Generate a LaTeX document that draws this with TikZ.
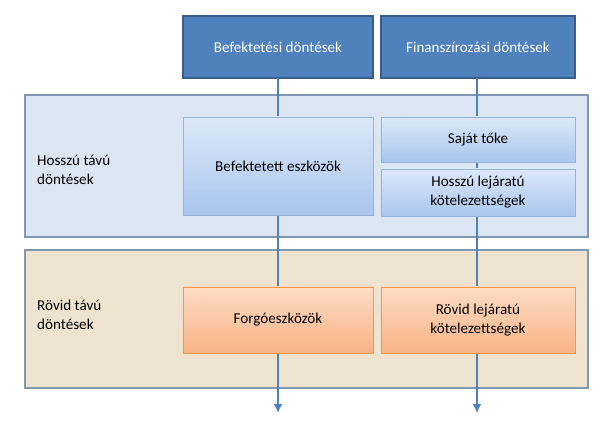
\documentclass[tikz,border=0pt]{standalone}
\usepackage{fontspec}
\setmainfont{Carlito}
\usetikzlibrary{arrows.meta}
\definecolor{headblue}{HTML}{4F81BD}
\definecolor{headedge}{HTML}{385D8A}
\definecolor{panelblue}{HTML}{DCE6F2}
\definecolor{paneltan}{HTML}{EEE3CE}
\definecolor{paneledge}{HTML}{8497B0}
\definecolor{boxblueA}{HTML}{DCE8F8}
\definecolor{boxblueB}{HTML}{A9C6EE}
\definecolor{boxblueedge}{HTML}{95B3D7}
\definecolor{boxorA}{HTML}{FCDCC4}
\definecolor{boxorB}{HTML}{F9B387}
\definecolor{boxoredge}{HTML}{F79646}
\begin{document}
\begin{tikzpicture}[
    x=0.02cm, y=-0.02cm,
    txt/.style={font=\fontsize{8.6}{10.5}\selectfont, align=center},
    head/.style={
        draw=headedge, fill=headblue, line width=0.8pt
    },
    panel/.style={
        draw=paneledge, line width=0.8pt
    },
    bluebox/.style={
        draw=boxblueedge, top color=boxblueA, bottom color=boxblueB
    },
    orangebox/.style={
        draw=boxoredge, top color=boxorA, bottom color=boxorB
    },
    sidelabel/.style={
        txt, align=left, anchor=west
    },
    flow/.style={
        -{Latex[length=5pt,width=5pt]}, headblue, line width=1.2pt
    }
    ]
    \useasboundingbox (0,0) rectangle (600,428);

    % Sávok
    \draw[panel, fill=panelblue] (25,95) rectangle (588,237);
    \draw[panel, fill=paneltan] (25,250) rectangle (588,388);
    \node[sidelabel] (long) at (31,170) {Hosszú távú\\döntések};
    \node[sidelabel] (short) at (31,315) {Rövid távú\\döntések};

    % Fejlécek
    \draw[head] (183,16) rectangle (373,78);
    \node[txt, text=white] (inv) at (278,47) {Befektetési döntések};
    \draw[head] (381,16) rectangle (575,78);
    \node[txt, text=white] (fin) at (478,47) {Finanszírozási döntések};

    % Nyilak
    \coordinate (invend) at (278,413);
    \coordinate (finend) at (477,413);
    \draw[flow] (278,78) -- (invend);
    \draw[flow] (477,78) -- (finend);

    % Mérleg elemei
    \draw[bluebox] (183,117) rectangle (373,215);
    \node[txt] (fixed) at (278,166) {Befektetett eszközök};
    \draw[bluebox] (381,117) rectangle (575,162);
    \node[txt] (equity) at (478,140) {Saját tőke};
    \draw[bluebox] (381,169) rectangle (575,216);
    \node[txt] (ltdebt) at (478,192) {Hosszú lejáratú\\kötelezettségek};
    \draw[orangebox] (183,287) rectangle (373,353);
    \node[txt] (current) at (278,320) {Forgóeszközök};
    \draw[orangebox] (381,287) rectangle (575,353);
    \node[txt] (stdebt) at (478,320) {Rövid lejáratú\\kötelezettségek};
\end{tikzpicture}
\end{document}
